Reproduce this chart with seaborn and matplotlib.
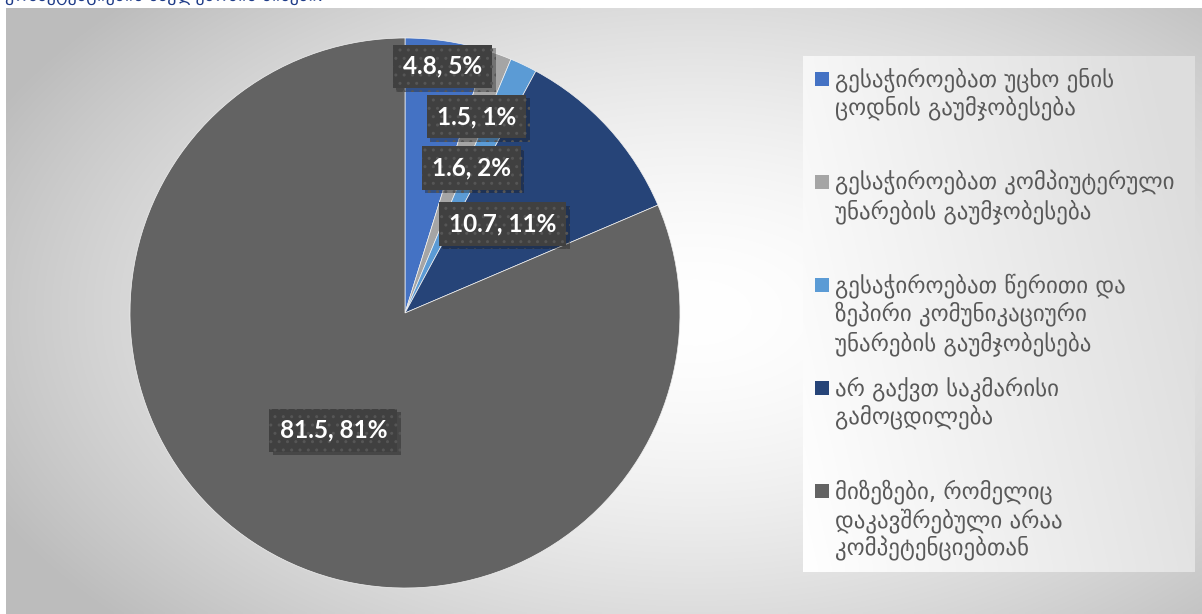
import numpy as np
import matplotlib
matplotlib.use('Agg')
import matplotlib.pyplot as plt
import matplotlib.patches as mpatches
import matplotlib.patheffects as pe
import seaborn as sns

# data
values = [4.8, 1.5, 1.6, 10.7, 81.5]
categories = [
    'გესაჭიროებათ უცხო ენის\nცოდნის გაუმჯობესება',
    'გესაჭიროებათ კომპიუტერული\nუნარების გაუმჯობესება',
    'გესაჭიროებათ წერითი და\nზეპირი კომუნიკაციური\nუნარების გაუმჯობესება',
    'არ გაქვთ საკმარისი\nგამოცდილება',
    'მიზეზები, რომელიც\nდაკავშრებული არაა\nკომპეტენციებთან',
]
colors = ['#4472C4', '#A5A5A5', '#5B9BD5', '#264478', '#636363']
title = 'კომპეტენციების ნაკლებობის მიზეზი:'

sns.set_theme(style='white')
plt.rcParams['font.family'] = ['DejaVu Sans']

W, H = 1202, 614
fig = plt.figure(figsize=(W / 100, H / 100), dpi=100)
fig.patch.set_facecolor('white')

# background with radial gradient
bg = fig.add_axes([6 / W, 0, 1 - 6 / W, (H - 8) / H])
yy, xx = np.mgrid[0:200, 0:400]
d = np.sqrt(((xx - 230) / 260.0) ** 2 + ((yy - 100) / 150.0) ** 2)
shade = 1 - 0.26 * np.clip(d, 0, 1) ** 1.6
bg.imshow(np.dstack([shade] * 3), aspect='auto', interpolation='bilinear')
bg.set_axis_off()

# legend panel
lp = fig.add_axes([803 / W, (H - 572) / H, (1195 - 803) / W, (572 - 56) / H])
gx = np.linspace(0, 1, 200)[None, :] * np.ones((50, 1))
gy = np.linspace(0, 1, 50)[:, None] * np.ones((1, 200))
lshade = 1 - 0.13 * np.clip(gx * 0.85 + (1 - gy) * 0.25, 0, 1)
lp.imshow(np.dstack([lshade] * 3), aspect='auto', interpolation='bilinear')
lp.set_axis_off()

# pie
cx, cy, r = 405, 313, 275
ax = fig.add_axes([(cx - r) / W, (H - cy - r) / H, 2 * r / W, 2 * r / H])
wedges, _ = ax.pie(values, colors=colors, startangle=90, counterclock=False,
                   radius=1, wedgeprops=dict(edgecolor='#f2f2f2', linewidth=0.5))
ax.set_xlim(-1, 1)
ax.set_ylim(-1, 1)
ax.set_aspect('equal')
ax.set_axis_off()

plt.rcParams['hatch.color'] = '#545454'
plt.rcParams['hatch.linewidth'] = 1.0
label_r = [0.907, 0.76, 0.58, 0.48, 0.50]
label_shift = [0, 0, 1, 0, 2]
total = sum(values)
for w, v, lr, sh in zip(wedges, values, label_r, label_shift):
    mid = np.deg2rad((w.theta1 + w.theta2) / 2 + sh)
    t = ax.text(lr * np.cos(mid), lr * np.sin(mid),
                f'{v}, {round(v / total * 100):.0f}%',
                ha='center', va='center', color='white', fontsize=17.5,
                fontweight='bold', family=['Lato', 'DejaVu Sans'],
                bbox=dict(boxstyle='square,pad=0.42', fc='#404040',
                          ec='#565656', lw=0, hatch='..'))
    t.get_bbox_patch().set_path_effects(
        [pe.SimplePatchShadow(offset=(2.5, -2.5), alpha=0.35), pe.Normal()])

# legend entries
for i, (lab, c) in enumerate(zip(categories, colors)):
    ytop = 79 + 103 * i
    fig.patches.append(mpatches.Rectangle(
        (815 / W, (H - ytop - 7) / H), 14 / W, 14 / H, transform=fig.transFigure,
        fc=c, ec='none', figure=fig))
    fig.text(835 / W, (H - ytop + 12) / H, lab, ha='left', va='top',
             color='#595959', fontsize=16.5, linespacing=1.2)

# clipped title
fig.text(5 / W, (H - 1) / H, title, ha='left', va='baseline',
         color='#1F3C88', fontsize=13)

fig.savefig('out.png', dpi=100)
